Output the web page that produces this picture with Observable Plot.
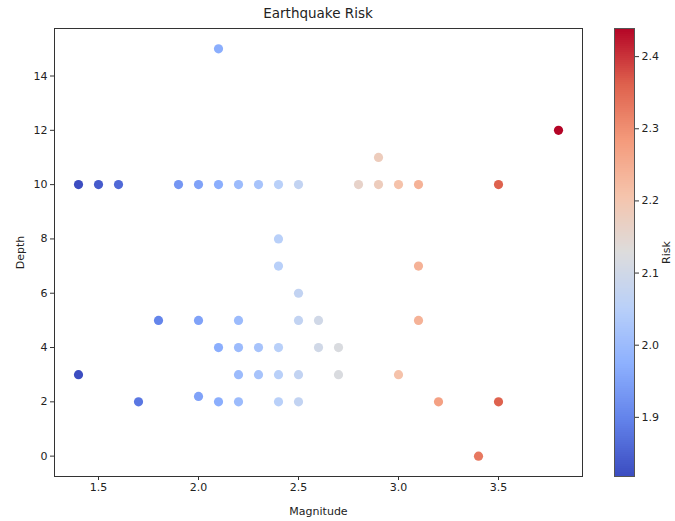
<!DOCTYPE html>
<html>
<head>
<meta charset="utf-8">
<script src="https://cdn.jsdelivr.net/npm/d3@7"></script>
<script src="https://cdn.jsdelivr.net/npm/@observablehq/plot@0.6"></script>
<style>
  html, body { margin: 0; padding: 0; background: #fff; }
  #wrap { position: relative; width: 675px; height: 521px; font-family: "DejaVu Sans", sans-serif; color: #222; }
  #title { position: absolute; left: 54px; width: 528px; top: 5px; text-align: center; font-size: 13.5px; }
  #main { position: absolute; left: 0; top: 0; }
  #cbar { position: absolute; left: 600px; top: 0; }
</style>
</head>
<body>
<div id="wrap">
  <div id="main"></div>
  <div id="cbar"></div>
  <div id="title">Earthquake Risk</div>
</div>
<script>
// Data
const magnitude = [1.4, 1.5, 1.6, 1.9, 2.0, 2.1, 2.2, 2.3, 2.4, 2.5, 2.8, 2.9, 3.0, 3.1, 3.5,
                   2.1, 3.8, 2.9, 2.4, 2.4, 3.1, 2.5,
                   1.8, 2.0, 2.2, 2.5, 2.6, 3.1,
                   2.1, 2.2, 2.3, 2.4, 2.6, 2.7,
                   1.4, 2.2, 2.3, 2.4, 2.5, 2.7, 3.0,
                   2.0,
                   1.7, 2.1, 2.2, 2.4, 2.5, 3.2, 3.5,
                   3.4];
const depth = [10, 10, 10, 10, 10, 10, 10, 10, 10, 10, 10, 10, 10, 10, 10,
               15, 12, 11, 8, 7, 7, 6,
               5, 5, 5, 5, 5, 5,
               4, 4, 4, 4, 4, 4,
               3, 3, 3, 3, 3, 3, 3,
               2.2,
               2, 2, 2, 2, 2, 2, 2,
               0];
const risk = [1.82, 1.84, 1.86, 1.93, 1.95, 1.97, 2.00, 2.02, 2.05, 2.07, 2.16, 2.18, 2.21, 2.24, 2.36,
              1.97, 2.44, 2.18, 2.05, 2.05, 2.24, 2.07,
              1.90, 1.95, 2.00, 2.07, 2.10, 2.24,
              1.97, 2.00, 2.02, 2.05, 2.10, 2.12,
              1.82, 2.00, 2.02, 2.05, 2.07, 2.12, 2.21,
              1.95,
              1.88, 1.97, 2.00, 2.05, 2.07, 2.27, 2.36,
              2.33];
const xTicks = [1.5, 2.0, 2.5, 3.0, 3.5];
const yTicks = [0, 2, 4, 6, 8, 10, 12, 14];
const riskTicks = [1.9, 2.0, 2.1, 2.2, 2.3, 2.4];
const riskDomain = [1.818, 2.439];
const coolwarm = ["#3b4cc0", "#6282ea", "#8db0fe", "#b9d0f9", "#dddcdc", "#f5c4ac", "#f49a7b", "#de614d", "#b40426"];

const points = magnitude.map((m, i) => ({magnitude: m, depth: depth[i], risk: risk[i]}));

const [lo, hi] = riskDomain;
const colorDomain = coolwarm.map((_, i) => lo + i * (hi - lo) / (coolwarm.length - 1));
const colorScale = {type: "linear", domain: colorDomain, range: coolwarm, interpolate: "rgb", clamp: true};

const textColor = "#222";
const font = "DejaVu Sans, sans-serif";

const main = Plot.plot({
  width: 600,
  height: 521,
  marginLeft: 54,
  marginRight: 18,
  marginTop: 28,
  marginBottom: 45,
  style: {fontFamily: font, fontSize: "11px", color: textColor, background: "white"},
  x: {domain: [1.28, 3.92]},
  y: {domain: [-0.75, 15.75]},
  color: colorScale,
  marks: [
    Plot.axisX({ticks: xTicks, tickFormat: d3.format(".1f"), tickSize: 4, tickPadding: 3,
                label: "Magnitude", labelAnchor: "center", labelArrow: "none", labelOffset: 38, stroke: "#333"}),
    Plot.axisY({ticks: yTicks, tickFormat: d3.format("d"), tickSize: 4, tickPadding: 3,
                label: "Depth", labelAnchor: "center", labelArrow: "none", labelOffset: 38, stroke: "#333"}),
    Plot.dot(points, {x: "magnitude", y: "depth", fill: "risk", r: 4.6, stroke: "none"}),
    Plot.frame({stroke: "#333", strokeWidth: 1})
  ]
});
document.getElementById("main").appendChild(main);

// Colorbar
const nSlices = 224;
const slices = d3.range(nSlices).map(i => ({
  a: lo + i * (hi - lo) / nSlices,
  b: lo + (i + 1) * (hi - lo) / nSlices,
  m: lo + (i + 0.5) * (hi - lo) / nSlices
}));
const cbar = Plot.plot({
  width: 75,
  height: 521,
  marginLeft: 14,
  marginRight: 41,
  marginTop: 28,
  marginBottom: 45,
  style: {fontFamily: font, fontSize: "11px", color: textColor, background: "white"},
  x: {domain: [0, 1], axis: null},
  y: {domain: riskDomain},
  color: colorScale,
  marks: [
    Plot.rect(slices, {x1: 0, x2: 1, y1: "a", y2: "b", fill: "m", shapeRendering: "crispEdges", inset: 0}),
    Plot.axisY({anchor: "right", ticks: riskTicks, tickFormat: d3.format(".1f"), tickSize: 4, tickPadding: 3,
                label: "Risk", labelAnchor: "center", labelArrow: "none", labelOffset: 35, stroke: "#333"}),
    Plot.frame({stroke: "#555", strokeWidth: 1})
  ]
});
document.getElementById("cbar").appendChild(cbar);
</script>
</body>
</html>
